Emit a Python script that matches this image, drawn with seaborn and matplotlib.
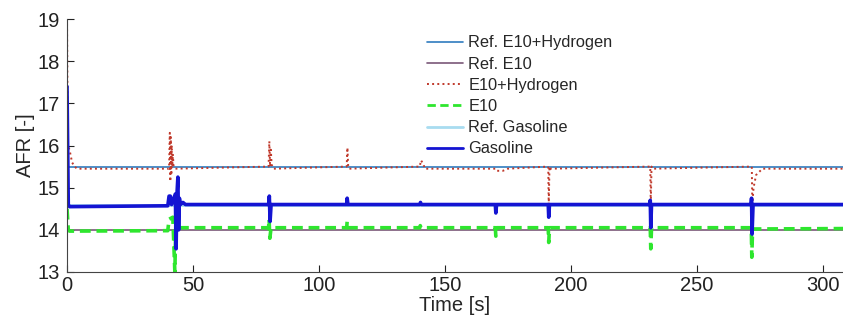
"""
AFR traces for gasoline, E10 and E10+hydrogen against their reference values
"""

import numpy as np
import pandas as pd
import matplotlib
matplotlib.use('Agg')
import matplotlib.pyplot as plt
import seaborn as sns

# Reference (target) AFR levels
ref_e10_h2 = 15.5
ref_e10 = 14.0
ref_gasoline = 14.6
t_span = [0, 308]

e10h2_t = [0, 0.3, 1, 2, 3, 4, 40.5, 40.8, 41.0, 41.2, 41.4, 41.6, 41.8, 42.0, 42.3, 43,
           80, 80.3, 80.6, 80.9, 81.2, 82, 111, 111.3, 111.6, 112, 140, 140.5, 141.5, 142,
           170, 170.5, 173, 175, 191, 191.2, 191.5, 192, 231.5, 231.7, 232, 232.5,
           271.8, 272.0, 272.5, 273.5, 276, 308]
e10h2_v = [19.0, 16.0, 15.9, 15.6, 15.5, 15.45, 15.45, 16.3, 15.15, 16.2, 15.3, 16.0, 15.5, 15.8, 15.5, 15.45,
           15.5, 16.1, 15.5, 15.9, 15.55, 15.45, 15.5, 15.95, 15.5, 15.45, 15.5, 15.65, 15.55, 15.45,
           15.45, 15.4, 15.4, 15.45, 15.5, 14.6, 15.5, 15.45, 15.5, 14.6, 15.5, 15.45,
           15.5, 14.6, 15.0, 15.3, 15.45, 15.45]

# E10 measured AFR
e10_t = [0, 0.5, 1, 40, 40.5, 42.0, 42.8, 43.2, 44, 80, 80.2, 80.5, 81, 111, 111.2, 111.5,
         140, 140.2, 140.5, 170, 170.2, 170.5, 191, 191.2, 191.5, 231.5, 231.7, 232,
         271.6, 271.8, 272.1, 308]
e10_v = [14.5, 14.0, 13.97, 13.98, 14.25, 14.3, 13.0, 14.2, 14.05, 14.05, 14.25, 13.8, 14.05, 14.05, 14.2, 14.05,
         14.05, 14.1, 14.05, 14.05, 13.85, 14.05, 14.05, 13.7, 14.05, 14.05, 13.55, 14.05,
         14.05, 13.35, 14.02, 14.03]

# Gasoline measured AFR
gas_t = [0, 0.5, 1, 40, 40.5, 41.0, 41.5, 43.0, 43.3, 43.6, 44.0, 44.3, 44.6, 45.0, 46, 47,
         80, 80.3, 80.6, 81, 111, 111.2, 111.5, 140, 140.3, 140.6, 170, 170.2, 170.5,
         191, 191.2, 191.5, 231.3, 231.5, 231.7, 232, 271.5, 271.7, 271.9, 272.3, 308]
gas_v = [17.4, 14.6, 14.55, 14.57, 14.8, 14.8, 14.6, 14.85, 13.55, 14.8, 15.25, 14.0, 14.75, 14.6, 14.65, 14.6,
         14.6, 14.8, 14.2, 14.6, 14.6, 14.75, 14.6, 14.6, 14.65, 14.6, 14.6, 14.4, 14.6,
         14.6, 14.3, 14.6, 14.6, 14.7, 14.05, 14.6, 14.6, 14.75, 13.9, 14.6, 14.6]

sns.set_style('ticks')
plt.rcParams['font.family'] = ['Liberation Sans', 'DejaVu Sans']

fig = plt.figure(figsize=(8.43, 3.2), dpi=100)
ax = fig.add_axes([0.0795, 0.15, 0.9205, 0.7906])

# (label, x, y, color, linestyle, linewidth) in plotting order
series = [
    ('Ref. E10+Hydrogen', t_span, [ref_e10_h2] * 2, '#2f7bbf', '-', 1.2),
    ('Ref. E10', t_span, [ref_e10] * 2, '#7a5878', '-', 1.2),
    ('E10+Hydrogen', e10h2_t, e10h2_v, '#c0392b', ':', 1.4),
    ('E10', e10_t, e10_v, '#2ee62e', (0, (3, 1.6)), 2.6),
    ('Ref. Gasoline', t_span, [ref_gasoline] * 2, '#a8dcf0', '-', 2.0),
    ('Gasoline', gas_t, gas_v, '#1414d2', '-', 2.6),
]

for label, x, y, color, ls, lw in series:
    df = pd.DataFrame({'t': x, 'afr': y})
    sns.lineplot(data=df, x='t', y='afr', ax=ax, label=label, color=color,
                 linestyle=ls, linewidth=lw, estimator=None, sort=False)

ax.set_xlim(0, 308)
ax.set_ylim(13, 19)
ax.set_xticks([0, 50, 100, 150, 200, 250, 300])
ax.set_yticks([13, 14, 15, 16, 17, 18, 19])
ax.tick_params(direction='in', length=5, labelsize=14.5, colors='#222222')
ax.tick_params(axis='x', pad=3)
ax.tick_params(axis='y', pad=5)
ax.set_xlabel('Time [s]', fontsize=14.5, labelpad=0.5)
ax.set_ylabel('AFR [-]', fontsize=14.5, labelpad=2)
sns.despine(ax=ax)
for s in ['left', 'bottom']:
    ax.spines[s].set_color('#444444')
    ax.spines[s].set_linewidth(0.8)

leg = ax.legend(loc='upper left', bbox_to_anchor=(0.499, 0.91), bbox_transform=fig.transFigure,
                frameon=False, fontsize=11.8, handlelength=2.2, handletextpad=0.3,
                labelspacing=0.38, borderaxespad=0)
for line in leg.get_lines():
    line.set_linewidth(min(line.get_linewidth(), 2.0))

fig.savefig('out.png', dpi=100)
plt.close(fig)
